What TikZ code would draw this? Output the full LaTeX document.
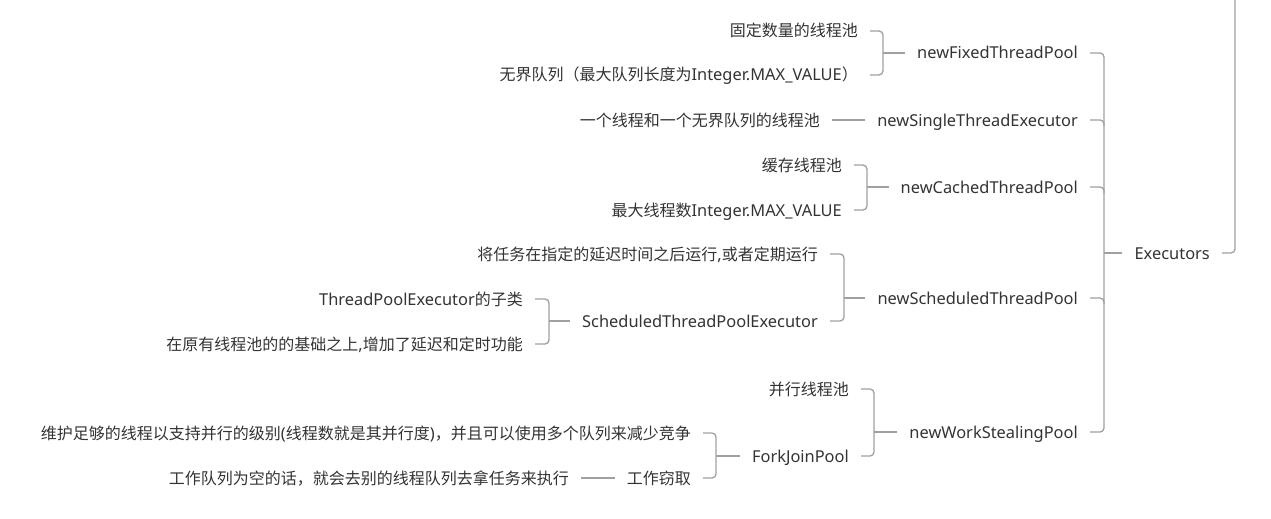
\documentclass[tikz,border=0pt]{standalone}
\usepackage{fontspec}
\setmainfont{Noto Sans}[Scale=1.025]
\newfontfamily\zhfont{Noto Sans CJK SC}
\newcommand{\zh}[1]{{\zhfont #1}}
\definecolor{txt}{HTML}{333333}
\definecolor{lnk}{HTML}{A0A0A0}
\tikzset{
  topic/.style = {anchor=east, inner xsep=12pt, inner ysep=0pt,
                  text height=14pt, text depth=2pt,
                  text=txt, font=\fontsize{16}{19}\selectfont},
  link/.style  = {draw=lnk, line width=1.3pt, rounded corners=4pt}
}

\begin{document}
\begin{tikzpicture}[x=1pt,y=-1pt]
  \useasboundingbox (0,0) rectangle (1271,519);
  % root and its parent off the page
  \node[topic] (exe) at (1222,253) {Executors};
  \coordinate (top) at (1235,-10);
  % factory methods
  \node[topic] (fix) at (1090,53) {newFixedThreadPool};
  \node[topic] (single) at (1090,120) {newSingleThreadExecutor};
  \node[topic] (cached) at (1090,187) {newCachedThreadPool};
  \node[topic] (sched) at (1090,298) {newScheduledThreadPool};
  \node[topic] (steal) at (1090,432) {newWorkStealingPool};
  % details
  \node[topic] (fixA) at (870,31) {\zh{固定数量的线程池}};
  \node[topic] (fixB) at (870,75) {\zh{无界队列（最大队列长度为}Integer.MAX\_VALUE\zh{）}};
  \node[topic] (singleA) at (832,120) {\zh{一个线程和一个无界队列的线程池}};
  \node[topic] (cachedA) at (854,165) {\zh{缓存线程池}};
  \node[topic] (cachedB) at (854,210) {\zh{最大线程数}Integer.MAX\_VALUE};
  \node[topic] (schedA) at (830,254) {\zh{将任务在指定的延迟时间之后运行},\zh{或者定期运行}};
  \node[topic] (schedB) at (830,321) {ScheduledThreadPoolExecutor};
  \node[topic] (schedBA) at (535,299) {ThreadPoolExecutor\zh{的子类}};
  \node[topic] (schedBB) at (535,344) {\zh{在原有线程池的的基础之上},\zh{增加了延迟和定时功能}};
  \node[topic] (stealA) at (861,389) {\zh{并行线程池}};
  \node[topic] (stealB) at (861,456) {ForkJoinPool};
  \node[topic] (fjA) at (703,433) {\zh{维护足够的线程以支持并行的级别}(\zh{线程数就是其并行度})\zh{，并且可以使用多个队列来减少竞争}};
  \node[topic] (fjB) at (703,478) {\zh{工作窃取}};
  \node[topic] (fjBA) at (581,478) {\zh{工作队列为空的话，就会去别的线程队列去拿任务来执行}};

  % Executors
  \draw[link] (exe.east) -| (top);
  \coordinate (bExe) at ([xshift=14pt]fix.east);
  \draw[link] (exe.west) -- (exe.west -| bExe);
  \draw[link] (fix.east) -- (bExe) -- (bExe |- steal.east) -- (steal.east);
  \foreach \n in {single,cached,sched}
    \draw[link] (\n.east) -- (bExe |- \n.east) -- ++(0,6);
  % newFixedThreadPool
  \coordinate (bFix) at ([xshift=13pt]fixA.east);
  \draw[link] (fix.west) -- (fix.west -| bFix);
  \draw[link] (fixA.east) -- (bFix) -- (bFix |- fixB.east) -- (fixB.east);
  % newSingleThreadExecutor
  \draw[link] (single.west) -- (singleA.east);
  % newCachedThreadPool
  \coordinate (bCached) at ([xshift=13pt]cachedA.east);
  \draw[link] (cached.west) -- (cached.west -| bCached);
  \draw[link] (cachedA.east) -- (bCached) -- (bCached |- cachedB.east) -- (cachedB.east);
  % newScheduledThreadPool
  \coordinate (bSched) at ([xshift=14pt]schedA.east);
  \draw[link] (sched.west) -- (sched.west -| bSched);
  \draw[link] (schedA.east) -- (bSched) -- (bSched |- schedB.east) -- (schedB.east);
  \coordinate (bSchedB) at ([xshift=14pt]schedBA.east);
  \draw[link] (schedB.west) -- (schedB.west -| bSchedB);
  \draw[link] (schedBA.east) -- (bSchedB) -- (bSchedB |- schedBB.east) -- (schedBB.east);
  % newWorkStealingPool
  \coordinate (bSteal) at ([xshift=13pt]stealA.east);
  \draw[link] (steal.west) -- (steal.west -| bSteal);
  \draw[link] (stealA.east) -- (bSteal) -- (bSteal |- stealB.east) -- (stealB.east);
  \coordinate (bFj) at ([xshift=13pt]fjA.east);
  \draw[link] (stealB.west) -- (stealB.west -| bFj);
  \draw[link] (fjA.east) -- (bFj) -- (bFj |- fjB.east) -- (fjB.east);
  \draw[link] (fjB.west) -- (fjBA.east);
\end{tikzpicture}
\end{document}
